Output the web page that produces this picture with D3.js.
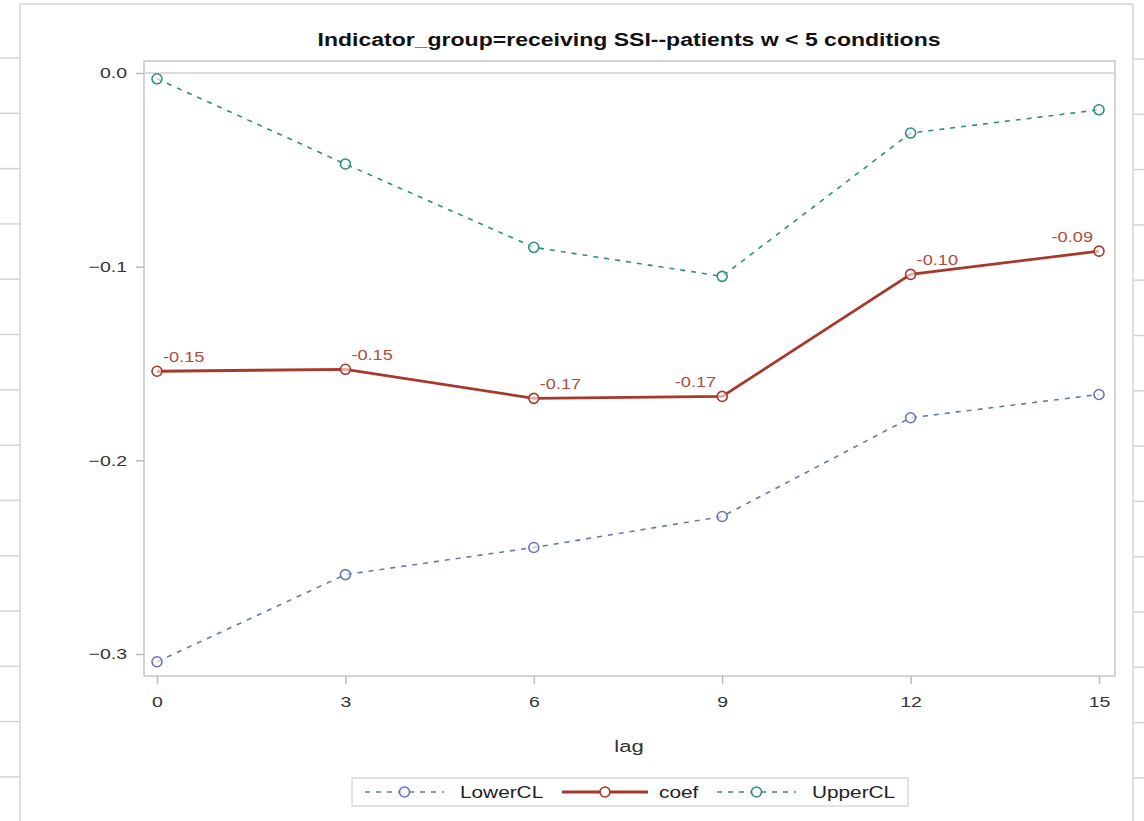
<!DOCTYPE html>
<html>
<head>
<meta charset="utf-8">
<script src="https://cdn.jsdelivr.net/npm/d3@7"></script>
<style>
  body { margin: 0; background: #fff; }
  svg { display: block; font-family: "Liberation Sans", Arial, sans-serif; }
  /* the reference screenshot is stretched sideways, so widen the small text */
  .wide-start, .wide-mid, .wide-end { transform-box: fill-box; transform: scaleX(1.3); }
  .wide-start { transform-origin: left center; }
  .wide-mid { transform-origin: center center; }
  .wide-end { transform-origin: right center; }
</style>
</head>
<body>
<div id="chart"></div>
<script>
// data
const lags = [0, 3, 6, 9, 12, 15];
const coef = [-0.154, -0.153, -0.168, -0.167, -0.104, -0.092];
const lowerCL = [-0.304, -0.259, -0.245, -0.229, -0.178, -0.166];
const upperCL = [-0.003, -0.047, -0.090, -0.105, -0.031, -0.019];
const coefLabels = ["-0.15", "-0.15", "-0.17", "-0.17", "-0.10", "-0.09"];
const labelSide = ["right", "right", "right", "left", "right", "left"];
const yTicks = [0, -0.1, -0.2, -0.3];
const title = "Indicator_group=receiving SSI--patients w < 5 conditions";

const width = 1144, height = 821;
const frame = { left: 144, top: 61, right: 1115, bottom: 676 };

const svg = d3.select("#chart").append("svg")
    .attr("width", width)
    .attr("height", height);

// spreadsheet grid around the graph
const grid = svg.append("g").attr("stroke", "#d4d4d4").attr("stroke-width", 1.5);
grid.append("line").attr("x1", 20).attr("x2", 1133).attr("y1", 4).attr("y2", 4);
grid.append("line").attr("x1", 20).attr("x2", 20).attr("y1", 4).attr("y2", height);
grid.append("line").attr("x1", 1133).attr("x2", 1133).attr("y1", 4).attr("y2", height);
d3.range(58, height, 55.3).forEach(y => {
    grid.append("line").attr("x1", 0).attr("x2", 20).attr("y1", y).attr("y2", y);
    grid.append("line").attr("x1", 1133).attr("x2", width).attr("y1", y + 1).attr("y2", y + 1);
});

const x = d3.scaleLinear().domain([0, 15]).range([157, 1099]);
const y = d3.scaleLinear().domain([0, -0.3]).range([73, 654]);

// plot frame
svg.append("rect")
    .attr("x", frame.left).attr("y", frame.top)
    .attr("width", frame.right - frame.left)
    .attr("height", frame.bottom - frame.top)
    .attr("fill", "#fff")
    .attr("stroke", "#c6c6c6")
    .attr("stroke-width", 1.5);

// reference line at zero
svg.append("line")
    .attr("x1", frame.left).attr("x2", frame.right)
    .attr("y1", y(0)).attr("y2", y(0))
    .attr("stroke", "#dcdcdc")
    .attr("stroke-width", 2);

// title
svg.append("text")
    .attr("x", 629).attr("y", 46)
    .attr("text-anchor", "middle")
    .style("font-size", "18px")
    .style("font-weight", "bold")
    .attr("fill", "#111")
    .attr("textLength", 623)
    .attr("lengthAdjust", "spacingAndGlyphs")
    .text(title);

// axes
const xAxis = d3.axisBottom(x).tickValues(lags).tickSize(8).tickPadding(12);
const yAxis = d3.axisLeft(y).tickValues(yTicks).tickSize(8).tickPadding(9)
    .tickFormat(d => d === 0 ? "0.0" : d3.format(".1f")(d));

const xAxisG = svg.append("g")
    .attr("transform", `translate(0,${frame.bottom})`)
    .call(xAxis);
const yAxisG = svg.append("g")
    .attr("transform", `translate(${frame.left},0)`)
    .call(yAxis);

[xAxisG, yAxisG].forEach(g => {
    g.select(".domain").remove();
    g.selectAll(".tick line").attr("stroke", "#bbb").attr("stroke-width", 1.5);
    g.selectAll(".tick text")
        .attr("fill", "#333")
        .style("font-size", "15px");
});
xAxisG.selectAll(".tick text").attr("class", "wide-mid");
yAxisG.selectAll(".tick text").attr("class", "wide-end");

// x label
svg.append("text")
    .attr("class", "wide-mid")
    .attr("x", 629).attr("y", 752)
    .attr("text-anchor", "middle")
    .style("font-size", "17px")
    .attr("fill", "#333")
    .text("lag");

const series = [
    { name: "LowerCL", values: lowerCL, color: "#6b76b4", width: 1.6, dash: "5,6" },
    { name: "coef", values: coef, color: "#a8382c", width: 2.8, dash: null },
    { name: "UpperCL", values: upperCL, color: "#2f8f7e", width: 1.6, dash: "5,6" }
];

const line = d3.line()
    .x(d => x(d[0]))
    .y(d => y(d[1]));

series.forEach(s => {
    const pts = lags.map((l, i) => [l, s.values[i]]);
    svg.append("path")
        .datum(pts)
        .attr("fill", "none")
        .attr("stroke", s.color)
        .attr("stroke-width", s.width)
        .attr("stroke-dasharray", s.dash)
        .attr("d", line);
    svg.selectAll(null)
        .data(pts)
        .enter().append("circle")
        .attr("cx", d => x(d[0]))
        .attr("cy", d => y(d[1]))
        .attr("r", 5)
        .attr("fill", "#fff")
        .attr("fill-opacity", 0.6)
        .attr("stroke", s.color)
        .attr("stroke-width", 1.6);
});

// coef labels
svg.selectAll(null)
    .data(lags)
    .enter().append("text")
    .attr("class", (d, i) => labelSide[i] === "left" ? "wide-end" : "wide-start")
    .attr("x", (d, i) => x(d) + (labelSide[i] === "left" ? -6 : 6))
    .attr("y", (d, i) => y(coef[i]) - 9)
    .attr("text-anchor", (d, i) => labelSide[i] === "left" ? "end" : "start")
    .style("font-size", "14px")
    .attr("fill", "#b04a3e")
    .text((d, i) => coefLabels[i]);

// legend
const legend = svg.append("g").attr("transform", "translate(352,778)");
legend.append("rect")
    .attr("width", 556).attr("height", 28)
    .attr("fill", "#fff")
    .attr("stroke", "#cfcfcf")
    .attr("stroke-width", 1.2);

const legendItems = [
    { s: series[0], x0: 13, x1: 92, tx: 108 },
    { s: series[1], x0: 210, x1: 296, tx: 307 },
    { s: series[2], x0: 365, x1: 444, tx: 460 }
];
legendItems.forEach(it => {
    const cy = 14;
    legend.append("line")
        .attr("x1", it.x0).attr("x2", it.x1)
        .attr("y1", cy).attr("y2", cy)
        .attr("stroke", it.s.color)
        .attr("stroke-width", it.s.width)
        .attr("stroke-dasharray", it.s.dash);
    legend.append("circle")
        .attr("cx", (it.x0 + it.x1) / 2).attr("cy", cy)
        .attr("r", 5)
        .attr("fill", "#fff")
        .attr("stroke", it.s.color)
        .attr("stroke-width", 1.6);
    legend.append("text")
        .attr("class", "wide-start")
        .attr("x", it.tx).attr("y", cy)
        .attr("dy", "0.35em")
        .style("font-size", "16px")
        .attr("fill", "#222")
        .text(it.s.name);
});
</script>
</body>
</html>
